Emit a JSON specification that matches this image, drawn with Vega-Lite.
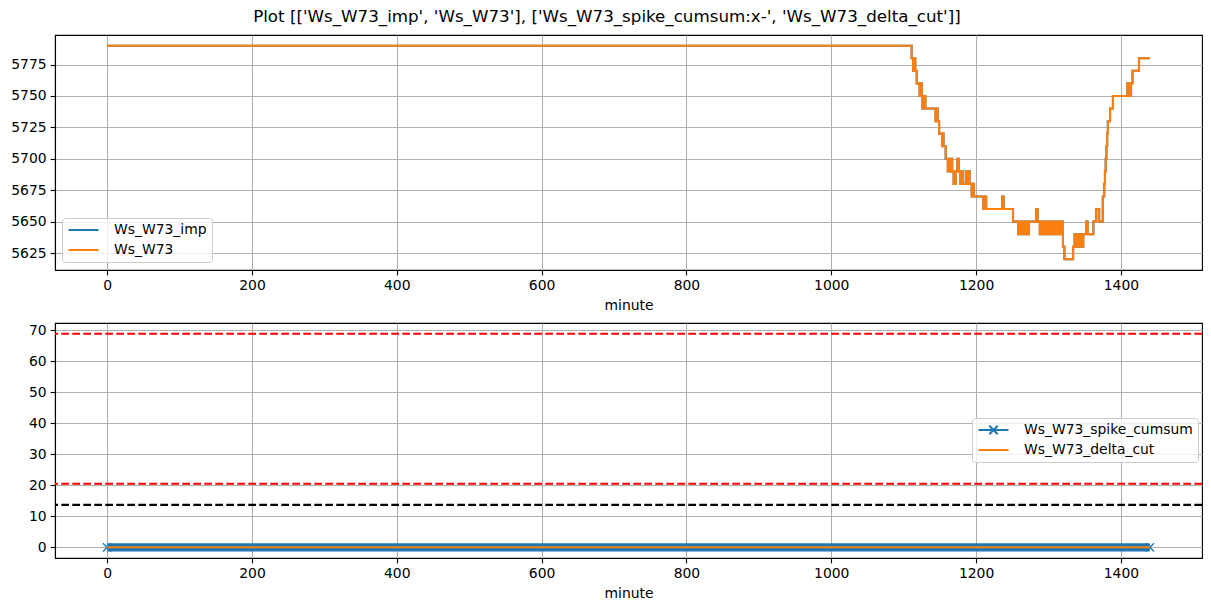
{
  "$schema": "https://vega.github.io/schema/vega-lite/v6.json",
  "padding": {"left": 10, "top": 8, "right": 8, "bottom": 2},
  "background": "white",
  "title": {"text": "Plot [['Ws_W73_imp', 'Ws_W73'], ['Ws_W73_spike_cumsum:x-', 'Ws_W73_delta_cut']]", "font": "DejaVu Sans", "fontSize": 16.7, "fontWeight": "normal", "color": "black", "anchor": "middle", "offset": 9},
  "config": {
    "view": {"stroke": "black", "strokeWidth": 1.1},
    "axis": {"domainColor": "black", "domainWidth": 1.1, "tickColor": "black", "tickWidth": 1.1, "tickSize": 4.9, "labelPadding": 4, "labelFont": "DejaVu Sans", "labelFontSize": 13.9, "labelColor": "black", "gridColor": "#b0b0b0", "gridWidth": 1.1, "titleFont": "DejaVu Sans", "titleFontSize": 13.9, "titleFontWeight": "normal", "titleColor": "black", "titlePadding": 6},
    "legend": {"labelFont": "DejaVu Sans", "labelFontSize": 13.9, "labelColor": "black", "labelLimit": 400}
  },
  "datasets": {
    "w73": [
      {"minute": 0, "value": 5790}, {"minute": 1111, "value": 5780}, {"minute": 1113, "value": 5770}, {"minute": 1115, "value": 5780}, {"minute": 1116, "value": 5770}, {"minute": 1118, "value": 5760}, {"minute": 1122, "value": 5750}, {"minute": 1124, "value": 5760}, {"minute": 1125, "value": 5750}, {"minute": 1126, "value": 5740}, {"minute": 1129, "value": 5750}, {"minute": 1130, "value": 5740}, {"minute": 1144, "value": 5730}, {"minute": 1146, "value": 5740}, {"minute": 1147, "value": 5730}, {"minute": 1149, "value": 5720}, {"minute": 1153, "value": 5710}, {"minute": 1154, "value": 5720}, {"minute": 1155, "value": 5710}, {"minute": 1158, "value": 5700}, {"minute": 1161, "value": 5690}, {"minute": 1163, "value": 5700}, {"minute": 1164, "value": 5690}, {"minute": 1166, "value": 5700}, {"minute": 1167, "value": 5690}, {"minute": 1169, "value": 5680}, {"minute": 1172, "value": 5690}, {"minute": 1174, "value": 5700}, {"minute": 1176, "value": 5690}, {"minute": 1178, "value": 5680}, {"minute": 1180, "value": 5690}, {"minute": 1182, "value": 5680}, {"minute": 1186, "value": 5690}, {"minute": 1187, "value": 5680}, {"minute": 1189, "value": 5690}, {"minute": 1191, "value": 5680}, {"minute": 1194, "value": 5670}, {"minute": 1196, "value": 5680}, {"minute": 1197, "value": 5670}, {"minute": 1210, "value": 5660}, {"minute": 1213, "value": 5670}, {"minute": 1214, "value": 5660}, {"minute": 1236, "value": 5670}, {"minute": 1238, "value": 5660}, {"minute": 1251, "value": 5650}, {"minute": 1258, "value": 5640}, {"minute": 1260, "value": 5650}, {"minute": 1262, "value": 5640}, {"minute": 1264, "value": 5650}, {"minute": 1266, "value": 5640}, {"minute": 1269, "value": 5650}, {"minute": 1271, "value": 5640}, {"minute": 1273, "value": 5650}, {"minute": 1283, "value": 5660}, {"minute": 1285, "value": 5650}, {"minute": 1288, "value": 5640}, {"minute": 1290, "value": 5650}, {"minute": 1292, "value": 5640}, {"minute": 1295, "value": 5650}, {"minute": 1297, "value": 5640}, {"minute": 1299, "value": 5650}, {"minute": 1301, "value": 5640}, {"minute": 1304, "value": 5650}, {"minute": 1306, "value": 5640}, {"minute": 1308, "value": 5650}, {"minute": 1310, "value": 5640}, {"minute": 1312, "value": 5650}, {"minute": 1314, "value": 5640}, {"minute": 1317, "value": 5650}, {"minute": 1320, "value": 5630}, {"minute": 1322, "value": 5620}, {"minute": 1334, "value": 5630}, {"minute": 1336, "value": 5640}, {"minute": 1338, "value": 5630}, {"minute": 1340, "value": 5640}, {"minute": 1342, "value": 5630}, {"minute": 1344, "value": 5640}, {"minute": 1346, "value": 5630}, {"minute": 1348, "value": 5640}, {"minute": 1352, "value": 5650}, {"minute": 1354, "value": 5640}, {"minute": 1362, "value": 5650}, {"minute": 1366, "value": 5660}, {"minute": 1370, "value": 5650}, {"minute": 1375, "value": 5670}, {"minute": 1377, "value": 5680}, {"minute": 1378, "value": 5690}, {"minute": 1379, "value": 5700}, {"minute": 1380, "value": 5710}, {"minute": 1381, "value": 5720}, {"minute": 1382, "value": 5730}, {"minute": 1385, "value": 5740}, {"minute": 1389, "value": 5750}, {"minute": 1409, "value": 5760}, {"minute": 1412, "value": 5750}, {"minute": 1414, "value": 5760}, {"minute": 1416, "value": 5770}, {"minute": 1425, "value": 5780}, {"minute": 1440, "value": 5780}
    ],
    "flags": [
      {"minute": 0, "Ws_W73_spike_cumsum": 0, "Ws_W73_delta_cut": 0},
      {"minute": 1440, "Ws_W73_spike_cumsum": 0, "Ws_W73_delta_cut": 0}
    ]
  },
  "spacing": 8,
  "resolve": {"scale": {"color": "independent"}, "legend": {"color": "independent"}},
  "vconcat": [
    {
      "width": 1147,
      "height": 235,
      "data": {"name": "w73"},
      "encoding": {
        "x": {"field": "minute", "type": "quantitative", "scale": {"domain": [-72, 1512], "nice": false, "zero": false}, "axis": {"values": [0, 200, 400, 600, 800, 1000, 1200, 1400], "format": "d", "title": "minute", "grid": true}},
        "y": {"field": "value", "type": "quantitative", "scale": {"domain": [5611.5, 5798.5], "nice": false, "zero": false}, "axis": {"values": [5625, 5650, 5675, 5700, 5725, 5750, 5775], "format": "d", "title": null, "grid": true}}
      },
      "layer": [
        {
          "mark": {"type": "line", "interpolate": "step-after", "strokeWidth": 2.1},
          "encoding": {"color": {"datum": "Ws_W73_imp", "type": "nominal", "scale": {"domain": ["Ws_W73_imp", "Ws_W73"], "range": ["#1f77b4", "#ff7f0e"]},
            "legend": {"orient": "none", "legendX": 7, "legendY": 183, "title": null, "symbolType": "stroke", "symbolSize": 900, "symbolStrokeWidth": 2.1, "clipHeight": 14, "rowPadding": 6, "labelOffset": 14, "padding": 5, "fillColor": "rgba(255,255,255,0.8)", "strokeColor": "#cccccc", "cornerRadius": 3}}}
        },
        {
          "mark": {"type": "line", "interpolate": "step-after", "strokeWidth": 2.1},
          "encoding": {"color": {"datum": "Ws_W73", "type": "nominal", "scale": {"domain": ["Ws_W73_imp", "Ws_W73"], "range": ["#1f77b4", "#ff7f0e"]}}}
        }
      ]
    },
    {
      "width": 1147,
      "height": 235,
      "layer": [
        {
          "data": {"name": "flags"},
          "mark": {"type": "line", "strokeWidth": 8.3, "color": "#1f77b4", "strokeCap": "butt"},
          "encoding": {
            "x": {"field": "minute", "type": "quantitative", "scale": {"domain": [-72, 1512], "nice": false, "zero": false}, "axis": {"values": [0, 200, 400, 600, 800, 1000, 1200, 1400], "format": "d", "title": "minute", "grid": true}},
            "y": {"field": "Ws_W73_spike_cumsum", "type": "quantitative", "scale": {"domain": [-3.445, 72.345], "nice": false, "zero": false}, "axis": {"values": [0, 10, 20, 30, 40, 50, 60, 70], "format": "d", "title": null, "grid": true}}
          }
        },
        {
          "data": {"name": "flags"},
          "mark": {"type": "point", "shape": "M-1,-1L1,1M-1,1L1,-1", "size": 69, "filled": false, "strokeWidth": 1.4, "color": "#1f77b4", "opacity": 1},
          "encoding": {
            "x": {"field": "minute", "type": "quantitative", "axis": {"values": [0, 200, 400, 600, 800, 1000, 1200, 1400], "format": "d", "title": "minute", "grid": true}},
            "y": {"field": "Ws_W73_spike_cumsum", "type": "quantitative", "axis": {"values": [0, 10, 20, 30, 40, 50, 60, 70], "format": "d", "title": null, "grid": true}}
          }
        },
        {
          "data": {"name": "flags"},
          "mark": {"type": "line", "strokeWidth": 2.1},
          "encoding": {
            "x": {"field": "minute", "type": "quantitative", "axis": {"values": [0, 200, 400, 600, 800, 1000, 1200, 1400], "format": "d", "title": "minute", "grid": true}},
            "y": {"field": "Ws_W73_delta_cut", "type": "quantitative", "axis": {"values": [0, 10, 20, 30, 40, 50, 60, 70], "format": "d", "title": null, "grid": true}},
            "color": {"datum": "Ws_W73_delta_cut", "type": "nominal", "scale": {"domain": ["Ws_W73_spike_cumsum", "Ws_W73_delta_cut"], "range": ["#1f77b4", "#ff7f0e"]},
              "legend": {"orient": "none", "legendX": 917, "legendY": 95, "title": null, "symbolType": "stroke", "symbolSize": 900, "symbolStrokeWidth": 2.1, "symbolFillColor": "transparent", "clipHeight": 14, "rowPadding": 6, "labelOffset": 14, "padding": 5, "fillColor": "rgba(255,255,255,0.8)", "strokeColor": "#cccccc", "cornerRadius": 3,
                "encode": {"symbols": {"update": {"shape": {"signal": "datum.value === 'Ws_W73_spike_cumsum' ? 'M-1,0H1M-0.28,-0.28L0.28,0.28M-0.28,0.28L0.28,-0.28' : 'M-1,0H1'"}, "strokeWidth": {"value": 2.1}, "fill": {"value": "transparent"}}}}}}
          }
        },
        {
          "data": {"values": [{"level": 68.9}, {"level": 20.5}]},
          "mark": {"type": "rule", "color": "red", "strokeWidth": 2.1, "strokeDash": [7.7, 3.3]},
          "encoding": {"y": {"field": "level", "type": "quantitative", "axis": {"values": [0, 10, 20, 30, 40, 50, 60, 70], "format": "d", "title": null, "grid": true}}}
        },
        {
          "data": {"values": [{"level": 13.7}]},
          "mark": {"type": "rule", "color": "black", "strokeWidth": 2.1, "strokeDash": [7.7, 3.3]},
          "encoding": {"y": {"field": "level", "type": "quantitative", "axis": {"values": [0, 10, 20, 30, 40, 50, 60, 70], "format": "d", "title": null, "grid": true}}}
        }
      ]
    }
  ]
}
